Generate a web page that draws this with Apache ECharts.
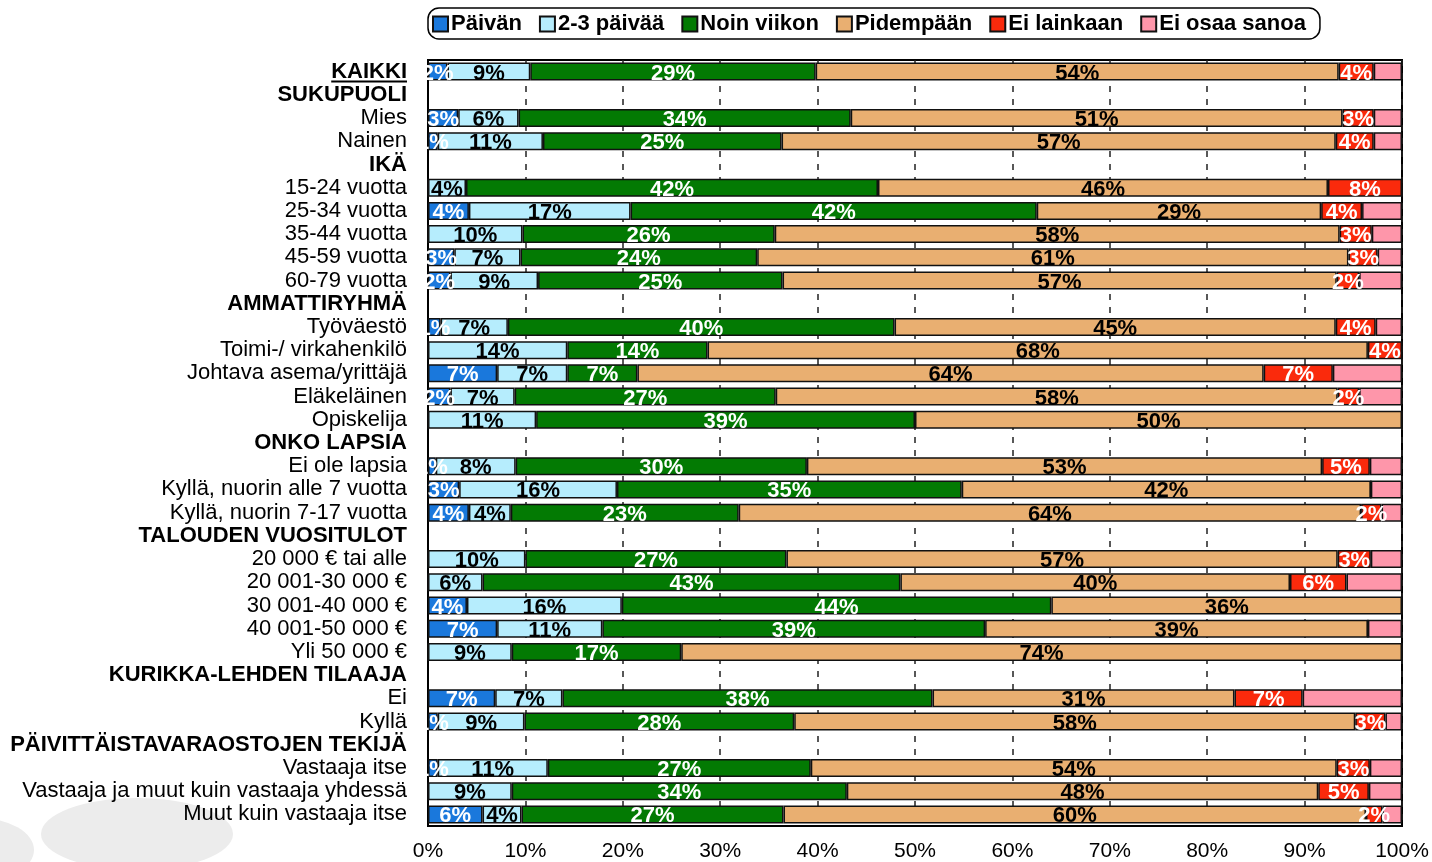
<!DOCTYPE html>
<html>
<head>
<meta charset="utf-8">
<script src="https://cdn.jsdelivr.net/npm/echarts@6/dist/echarts.min.js"></script>
<style>
  html, body { margin: 0; padding: 0; background: #fff; }
  #chart { width: 1432px; height: 862px; }
</style>
</head>
<body>
<div id="chart"></div>
<script>
// rivit ylhäältä alas, otsikkoriveillä ei palkkia
const categories = [
  'KAIKKI', 'SUKUPUOLI', 'Mies', 'Nainen',
  'IKÄ', '15-24 vuotta', '25-34 vuotta', '35-44 vuotta', '45-59 vuotta', '60-79 vuotta',
  'AMMATTIRYHMÄ', 'Työväestö', 'Toimi-/ virkahenkilö', 'Johtava asema/yrittäjä', 'Eläkeläinen', 'Opiskelija',
  'ONKO LAPSIA', 'Ei ole lapsia', 'Kyllä, nuorin alle 7 vuotta', 'Kyllä, nuorin 7-17 vuotta',
  'TALOUDEN VUOSITULOT', '20 000 € tai alle', '20 001-30 000 €', '30 001-40 000 €', '40 001-50 000 €', 'Yli 50 000 €',
  'KURIKKA-LEHDEN TILAAJA', 'Ei', 'Kyllä',
  'PÄIVITTÄISTAVARAOSTOJEN TEKIJÄ', 'Vastaaja itse', 'Vastaaja ja muut kuin vastaaja yhdessä', 'Muut kuin vastaaja itse'
]
const headers = ['SUKUPUOLI', 'IKÄ', 'AMMATTIRYHMÄ', 'ONKO LAPSIA', 'TALOUDEN VUOSITULOT', 'KURIKKA-LEHDEN TILAAJA', 'PÄIVITTÄISTAVARAOSTOJEN TEKIJÄ']

const seriesNames = ['Päivän', '2-3 päivää', 'Noin viikon', 'Pidempään', 'Ei lainkaan', 'Ei osaa sanoa']

const paivan = [2.0, null, 3.1, 1.0, null, 0, 4.2, 0, 2.7, 2.3, null, 1.3, 0, 7.1, 2.3, 0, null, 0.8, 3.2, 4.2, null, 0, 0, 4.0, 7.1, 0, null, 6.9, 1.0, null, 1.0, 0, 5.6]
const kaksiKolme = [8.5, null, 6.2, 10.8, null, 3.9, 16.6, 9.7, 6.8, 9.0, null, 6.9, 14.3, 7.2, 6.6, 11.1, null, 8.2, 16.2, 4.3, null, 10.0, 5.6, 15.9, 10.8, 8.6, null, 6.9, 8.9, null, 11.3, 8.6, 4.0]
const viikko = [29.3, null, 34.1, 24.5, null, 42.3, 41.7, 25.9, 24.3, 25.1, null, 39.7, 14.4, 7.2, 26.8, 38.9, null, 29.9, 35.4, 23.4, null, 26.8, 42.9, 44.1, 39.3, 17.4, null, 38.0, 27.7, null, 27.0, 34.4, 26.9]
const pidempi = [53.7, null, 50.5, 56.9, null, 46.2, 29.2, 58.0, 60.7, 56.9, null, 45.3, 67.8, 64.3, 57.7, 50.0, null, 52.9, 42.0, 63.9, null, 56.6, 40.0, 36.0, 39.3, 74.0, null, 31.0, 57.6, null, 54.0, 48.4, 59.8]
const eiLainkaan = [3.6, null, 3.2, 3.9, null, 7.6, 4.2, 3.3, 3.0, 2.3, null, 4.1, 3.5, 7.1, 2.2, 0, null, 4.9, 0, 2.1, null, 3.4, 5.8, 0, 0, 0, null, 7.0, 3.1, null, 3.4, 5.2, 1.7]
const eos = [2.9, null, 2.9, 2.9, null, 0, 4.1, 3.1, 2.5, 4.4, null, 2.7, 0, 7.1, 4.4, 0, null, 3.3, 3.2, 2.1, null, 3.2, 5.7, 0, 3.5, 0, null, 10.2, 1.7, null, 3.3, 3.4, 2.0]

const xTicks = [0, 10, 20, 30, 40, 50, 60, 70, 80, 90, 100]

const fontFamily = '"Liberation Sans", Arial, sans-serif'
const colors = ['#1a78dc', '#b6edfd', '#037a03', '#e9af71', '#fa2a0c', '#fe96aa']
const labelColors = ['#fff', '#000', '#fff', '#000', '#fff', '#000']
const allData = [paivan, kaksiKolme, viikko, pidempi, eiLainkaan, eos]

var myChart = echarts.init(document.getElementById('chart'))

const series = seriesNames.map((name, i) => ({
  name: name,
  type: 'bar',
  stack: 'yht',
  barWidth: 18,
  itemStyle: {
    color: colors[i],
    borderColor: '#111',
    borderWidth: 1.5
  },
  label: {
    show: i !== 5,
    position: 'inside',
    offset: [0, 2],
    color: labelColors[i],
    fontFamily: fontFamily,
    fontWeight: 'bold',
    fontSize: 22,
    formatter: p => (p.value ? Math.round(p.value) + '%' : '')
  },
  data: allData[i]
}))

myChart.setOption({
  animation: false,
  backgroundColor: '#fff',
  textStyle: { fontFamily: fontFamily },
  legend: {
    data: seriesNames,
    left: 428,
    top: 8,
    padding: [5, 14, 4, 4],
    borderColor: '#000',
    borderWidth: 1.5,
    borderRadius: 11,
    itemWidth: 15,
    itemHeight: 15,
    itemGap: 17,
    icon: 'rect',
    textStyle: {
      color: '#000',
      fontWeight: 'bold',
      fontSize: 22,
      padding: [0, 0, 0, -2]
    }
  },
  grid: {
    show: true,
    left: 428,
    right: 30,
    top: 60,
    bottom: 36,
    borderColor: '#000',
    borderWidth: 2,
    containLabel: false
  },
  xAxis: {
    type: 'value',
    min: xTicks[0],
    max: xTicks[xTicks.length - 1],
    interval: 10,
    axisLine: { show: false },
    axisTick: { show: false },
    splitLine: {
      show: true,
      lineStyle: { color: '#222', width: 1.5, type: [6, 7] }
    },
    axisLabel: {
      margin: 15,
      color: '#000',
      fontSize: 21,
      fontFamily: fontFamily,
      formatter: '{value}%'
    }
  },
  yAxis: {
    type: 'category',
    inverse: true,
    data: categories,
    axisLine: { show: true, lineStyle: { color: '#000', width: 2 } },
    axisTick: { show: false },
    axisLabel: {
      margin: 21,
      interval: 0,
      color: '#000',
      fontSize: 22,
      fontFamily: fontFamily,
      formatter: v => (headers.indexOf(v) >= 0 || v === 'KAIKKI' ? '{b|' + v + '}' : v),
      rich: {
        b: { fontWeight: 'bold', fontSize: 22, color: '#000', fontFamily: fontFamily }
      }
    }
  },
  series: series
})

// alleviivaus KAIKKI-riville ja taustan harmaat pallot
const ctx = document.createElement('canvas').getContext('2d')
ctx.font = 'bold 22px ' + fontFamily
const w = ctx.measureText('KAIKKI').width
const yK = myChart.convertToPixel({ yAxisIndex: 0 }, 'KAIKKI')
const xR = 428 - 21
myChart.setOption({
  graphic: [
    {
      type: 'circle', z: -10, silent: true,
      x: 137, y: 834, scaleX: 96 / 36,
      shape: { cx: 0, cy: 0, r: 36 },
      style: { fill: '#ececec' }
    },
    {
      type: 'circle', z: -10, silent: true,
      x: -22, y: 850, scaleX: 56 / 32,
      shape: { cx: 0, cy: 0, r: 32 },
      style: { fill: '#ececec' }
    },
    {
      type: 'line', silent: true,
      shape: { x1: xR - w, y1: yK + 10, x2: xR, y2: yK + 10 },
      style: { stroke: '#000', lineWidth: 2 }
    }
  ]
})
</script>
</body>
</html>
